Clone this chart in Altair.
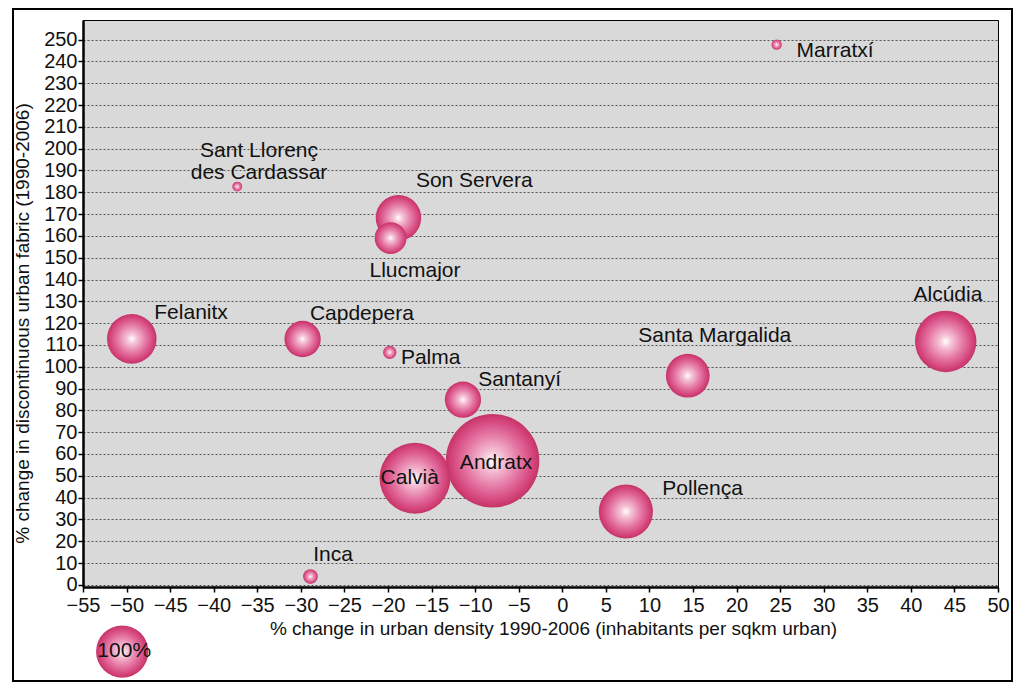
import altair as alt
import pandas as pd

# --- data ---
names = ["Marratxí", "Sant Llorenç\ndes Cardassar", "Son Servera", "Llucmajor", "Felanitx",
         "Capdepera", "Palma", "Alcúdia", "Santa Margalida", "Santanyí", "Andratx",
         "Calvià", "Pollença", "Inca"]
density_change = [24.6, -37.3, -18.8, -19.7, -49.4, -29.8, -19.8, 44.0, 14.4, -11.4, -8.0, -16.9, 7.3, -28.9]
fabric_change = [247.7, 182.6, 168.3, 159.0, 112.8, 112.7, 106.6, 111.6, 95.9, 84.9, 56.9, 48.9, 33.6, 3.8]
bubble_pct = [3.9, 3.6, 75.9, 37.2, 90.0, 48.3, 6.5, 138.0, 70.0, 48.0, 320.0, 184.0, 107.0, 7.9]
label_x = [31.3, -34.8, -10.1, -16.9, -42.6, -23.0, -15.1, 44.25, 17.5, -4.9, -7.6, -17.5, 16.1, -26.3]
label_y = [245.0, 198.8, 185.0, 143.9, 124.8, 124.0, 104.1, 132.8, 114.2, 94.0, 56.0, 48.9, 44.0, 13.6]

legend_value = [100]
legend_text = ["100%"]
legend_x = [-50.5]
legend_y = [-30.6]

x_ticks = list(range(-55, 51, 5))
y_ticks = list(range(0, 251, 10))

df = pd.DataFrame({"name": names, "x": density_change, "y": fabric_change,
                   "size": bubble_pct, "lx": label_x, "ly": label_y})
df = df.sort_values("size", ascending=False)
leg = pd.DataFrame({"size": legend_value, "name": legend_text, "x": legend_x, "y": legend_y})

FONT = "Liberation Sans"
W, H = 915, 567
R100 = 29.5
AREA100 = 3.14159 * R100 * R100

xscale = alt.Scale(domain=[-55, 50], nice=False, zero=False)
yscale = alt.Scale(domain=[-1, 259], nice=False, zero=False)
sscale = alt.Scale(type="linear", domain=[0, 100], range=[0, AREA100], zero=True)

grad = alt.RadialGradient(
    gradient="radial",
    stops=[alt.GradientStop(color="#ffffff", offset=0),
           alt.GradientStop(color="#f5c3d6", offset=0.2),
           alt.GradientStop(color="#e476a3", offset=0.58),
           alt.GradientStop(color="#d5467d", offset=0.86),
           alt.GradientStop(color="#c53467", offset=1)],
    x1=0.5, y1=0.5, r1=0, x2=0.5, y2=0.5, r2=0.5,
)

XTITLE = "% change in urban density 1990-2006 (inhabitants per sqkm urban)"
YTITLE = "% change in discontinuous urban fabric (1990-2006)"


def xaxis():
    return alt.Axis(values=x_ticks, grid=False, title=XTITLE,
                    titleX=470, titleY=41, titleBaseline="middle", titleAlign="center",
                    labelFlush=False, labelOverlap=False, labelPadding=3)


def yaxis():
    return alt.Axis(values=y_ticks, grid=True, title=YTITLE,
                    titleX=-61, titleY=303, titleBaseline="middle", titleAlign="center", titleAngle=-90,
                    labelFlush=False, labelOverlap=False, labelPadding=1)


def X(field):
    return alt.X(field, type="quantitative", scale=xscale, axis=xaxis(), title=XTITLE)


def Y(field):
    return alt.Y(field, type="quantitative", scale=yscale, axis=yaxis(), title=YTITLE)


frame = alt.Chart(alt.Data(values=[{"k": 1}])).mark_rect(
    filled=False, stroke="#000000", strokeWidth=2
).encode(x=alt.value(-70), x2=alt.value(929), y=alt.value(-11), y2=alt.value(661))

bubbles = alt.Chart(df).mark_circle(fill=grad, opacity=1, strokeWidth=0).encode(
    x=X("x"), y=Y("y"),
    size=alt.Size("size:Q", scale=sscale, legend=None),
    order=alt.Order("size:Q", sort="descending"),
)

labels = alt.Chart(df).mark_text(font=FONT, fontSize=21, color="#111111", align="center",
                                 baseline="middle", lineBreak="\n", lineHeight=21.5).encode(
    x=X("lx"), y=Y("ly"), text="name:N",
)

leg_bubble = alt.Chart(leg).mark_circle(fill=grad, opacity=1, strokeWidth=0).encode(
    x=X("x"), y=Y("y"),
    size=alt.Size("size:Q", scale=sscale, legend=None),
)
leg_text = alt.Chart(leg).mark_text(font=FONT, fontSize=21, color="#111111", align="center",
                                    baseline="middle", dx=2, dy=-1).encode(
    x=X("x"), y=Y("y"), text="name:N",
)

chart = alt.layer(bubbles, labels, leg_bubble, leg_text, frame).properties(
    width=W, height=H,
    autosize=alt.AutoSizeParams(type="none"),
    padding={"left": 75, "top": 12, "right": 18, "bottom": 95},
    background="#ffffff",
).configure_view(
    fill="#d9d9d9", stroke="#000000", strokeWidth=1
).configure_axis(
    labelFont=FONT, labelFontSize=20, labelColor="#111111",
    titleFont=FONT, titleFontSize=19, titleFontWeight="normal", titleColor="#111111",
    domainColor="#000000", domainWidth=2.5, tickColor="#000000", tickSize=5, tickWidth=1.5,
    gridColor="#555555", gridDash=[2, 2], gridWidth=1,
)

chart.save("out.html", embed_options={"renderer": "svg", "actions": False})
